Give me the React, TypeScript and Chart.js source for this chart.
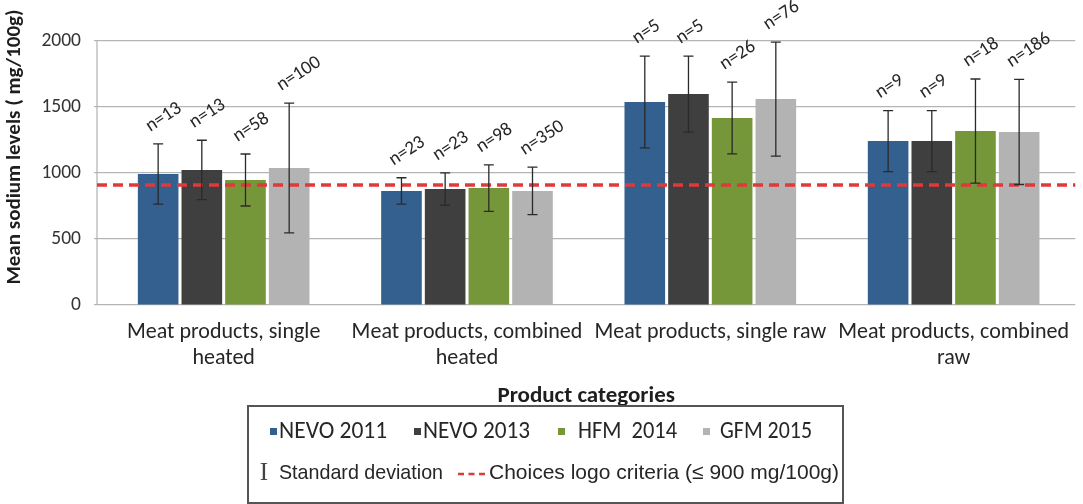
import React, { useEffect, useRef } from "react";
import { Chart, registerables } from "chart.js";

Chart.register(...registerables);

const categories: (string | string[])[] = [
  ["Meat products, single", "heated"],
  ["Meat products, combined", "heated"],
  "Meat products, single raw",
  ["Meat products, combined", "raw"],
];
const seriesNames = ["NEVO 2011", "NEVO 2013", "HFM  2014", "GFM 2015"];
const nevo2011 = [992, 864, 1538, 1242];
const nevo2013 = [1023, 879, 1598, 1242];
const hfm2014 = [947, 886, 1417, 1318];
const gfm2015 = [1038, 864, 1560, 1311];
const sdNevo2011 = [228, 100, 348, 231];
const sdNevo2013 = [225, 122, 288, 231];
const sdHfm2014 = [197, 176, 272, 394];
const sdGfm2015 = [492, 180, 432, 398];
const nNevo2011 = [13, 23, 5, 9];
const nNevo2013 = [13, 23, 5, 9];
const nHfm2014 = [58, 98, 26, 18];
const nGfm2015 = [100, 350, 76, 186];
const criteriaValue = 910;
const yMin = 0;
const yMax = 2000;
const yStep = 500;

const colors = ["#33608F", "#3F3F3F", "#76963A", "#B3B3B3"];
const FONT = "Carlito, Lato, 'Open Sans', sans-serif";
const ARIAL = "'Liberation Sans', Arial, sans-serif";

const seriesValues = [nevo2011, nevo2013, hfm2014, gfm2015];
const seriesSd = [sdNevo2011, sdNevo2013, sdHfm2014, sdGfm2015];
const seriesN = [nNevo2011, nNevo2013, nHfm2014, nGfm2015];

const AXIS_X = 97;

const overlayPlugin = {
  id: "overlay",
  beforeDatasetsDraw(chart: any) {
    const ctx = chart.ctx as CanvasRenderingContext2D;
    const area = chart.chartArea;
    ctx.save();
    ctx.strokeStyle = "#B0B0B0";
    ctx.lineWidth = 1.2;
    ctx.beginPath();
    ctx.moveTo(AXIS_X, area.top);
    ctx.lineTo(AXIS_X, area.bottom);
    ctx.stroke();
    ctx.restore();
  },
  afterDatasetsDraw(chart: any) {
    const ctx = chart.ctx as CanvasRenderingContext2D;
    const y = chart.scales.y;
    const area = chart.chartArea;
    ctx.save();
    ctx.strokeStyle = "#E0393B";
    ctx.lineWidth = 3.5;
    ctx.setLineDash([10, 6]);
    const ry = y.getPixelForValue(criteriaValue);
    ctx.beginPath();
    ctx.moveTo(AXIS_X, ry);
    ctx.lineTo(area.right, ry);
    ctx.stroke();
    ctx.restore();

    chart.data.datasets.forEach((ds: any, di: number) => {
      const meta = chart.getDatasetMeta(di);
      meta.data.forEach((bar: any, i: number) => {
        const m = ds.data[i];
        const s = seriesSd[di][i];
        const top = y.getPixelForValue(m + s);
        const bot = y.getPixelForValue(m - s);
        const x = bar.x;
        ctx.save();
        ctx.strokeStyle = "#2A2A2A";
        ctx.lineWidth = 1.3;
        ctx.beginPath();
        ctx.moveTo(x, top);
        ctx.lineTo(x, bot);
        ctx.moveTo(x - 5, top);
        ctx.lineTo(x + 5, top);
        ctx.moveTo(x - 5, bot);
        ctx.lineTo(x + 5, bot);
        ctx.stroke();
        ctx.restore();

        ctx.save();
        ctx.translate(x - 8, top - 12);
        ctx.rotate((-33 * Math.PI) / 180);
        ctx.font = `19px ${FONT}`;
        ctx.fillStyle = "#262626";
        ctx.textAlign = "left";
        ctx.textBaseline = "alphabetic";
        ctx.fillText("n=" + seriesN[di][i], 0, 0);
        ctx.restore();
      });
    });
  },
  afterDraw(chart: any) {
    const ctx = chart.ctx as CanvasRenderingContext2D;
    const area = chart.chartArea;
    ctx.save();
    ctx.translate(15, 147);
    ctx.rotate(-Math.PI / 2);
    ctx.font = `bold 21px ${FONT}`;
    ctx.fillStyle = "#1E1E1E";
    ctx.textAlign = "center";
    ctx.textBaseline = "middle";
    ctx.fillText("Mean sodium levels ( mg/100g)", 0, 0);
    ctx.restore();

    ctx.save();
    ctx.font = `bold 23px ${FONT}`;
    ctx.fillStyle = "#1E1E1E";
    ctx.textAlign = "center";
    ctx.textBaseline = "middle";
    ctx.fillText("Product categories", (AXIS_X + area.right) / 2, 396);
    ctx.restore();

    ctx.save();
    ctx.strokeStyle = "#555555";
    ctx.lineWidth = 2;
    ctx.strokeRect(248, 406, 595, 97);
    const sqX = [270, 414, 558, 703];
    const txX = [279, 423, 578, 720];
    const txW = [109, 107, 99, 92];
    ctx.font = `23.5px ${FONT}`;
    ctx.textBaseline = "middle";
    ctx.textAlign = "left";
    seriesNames.forEach((nm, i) => {
      ctx.fillStyle = colors[i];
      ctx.fillRect(sqX[i], 428, 7, 7);
      ctx.fillStyle = "#262626";
      ctx.fillText(nm, txX[i], 432, txW[i]);
    });
    ctx.font = `25px 'Liberation Serif', serif`;
    ctx.fillStyle = "#444";
    ctx.textAlign = "center";
    ctx.fillText("I", 264, 473);
    ctx.textAlign = "left";
    ctx.font = `21px ${ARIAL}`;
    ctx.fillStyle = "#262626";
    ctx.fillText("Standard deviation", 279, 473, 164);
    ctx.strokeStyle = "#E0393B";
    ctx.lineWidth = 2.5;
    ctx.setLineDash([6, 4.5]);
    ctx.beginPath();
    ctx.moveTo(458, 474);
    ctx.lineTo(486, 474);
    ctx.stroke();
    ctx.setLineDash([]);
    ctx.fillText("Choices logo criteria (\u2264 900 mg/100g)", 489, 473, 350);
    ctx.restore();
  },
};

export default function App() {
  const ref = useRef<HTMLCanvasElement | null>(null);
  useEffect(() => {
    let chart: Chart | null = null;
    let cancelled = false;
    const make = () => {
      if (cancelled || !ref.current) return;
      chart = new Chart(ref.current, {
        type: "bar",
        data: {
          labels: categories,
          datasets: seriesNames.map((nm, i) => ({
            label: nm,
            data: seriesValues[i],
            backgroundColor: colors[i],
            borderWidth: 0,
            categoryPercentage: 0.718,
            barPercentage: 0.93,
          })),
        },
        options: {
          responsive: false,
          animation: false,
          layout: { padding: { top: 41, left: 0, right: 0, bottom: 0 } },
          plugins: { legend: { display: false }, tooltip: { enabled: false } },
          scales: {
            x: {
              grid: { display: false, drawTicks: false },
              border: { display: false },
              ticks: {
                color: "#262626",
                font: { family: FONT, size: 22, lineHeight: 1.2 },
                padding: 14,
                maxRotation: 0,
                minRotation: 0,
                autoSkip: false,
              },
              afterFit: (s: any) => {
                s.height = 199;
              },
            },
            y: {
              min: yMin,
              max: yMax,
              ticks: {
                stepSize: yStep,
                color: "#333333",
                font: { family: FONT, size: 19.5 },
                padding: 13,
                callback: (v: any) => String(v),
              },
              grid: { color: "#B5B5B5", lineWidth: 1.2, tickLength: 8 },
              border: { display: false },
              afterFit: (s: any) => {
                s.width = 102;
              },
            },
          },
        },
        plugins: [overlayPlugin],
      });
    };
    const fontsApi = (document as any).fonts;
    if (fontsApi && fontsApi.load) {
      Promise.all([
        fontsApi.load(`21px Lato`),
        fontsApi.load(`bold 21px Lato`),
        fontsApi.load(`20px 'Liberation Sans'`),
        fontsApi.load(`22px 'Liberation Serif'`),
      ])
        .catch(() => null)
        .then(make);
    } else {
      make();
    }
    return () => {
      cancelled = true;
      if (chart) chart.destroy();
    };
  }, []);
  return (
    <div style={{ position: "absolute", left: 0, top: 0, width: 1083, height: 504, background: "#fff" }}>
      <canvas ref={ref} width={1083} height={504} />
    </div>
  );
}
